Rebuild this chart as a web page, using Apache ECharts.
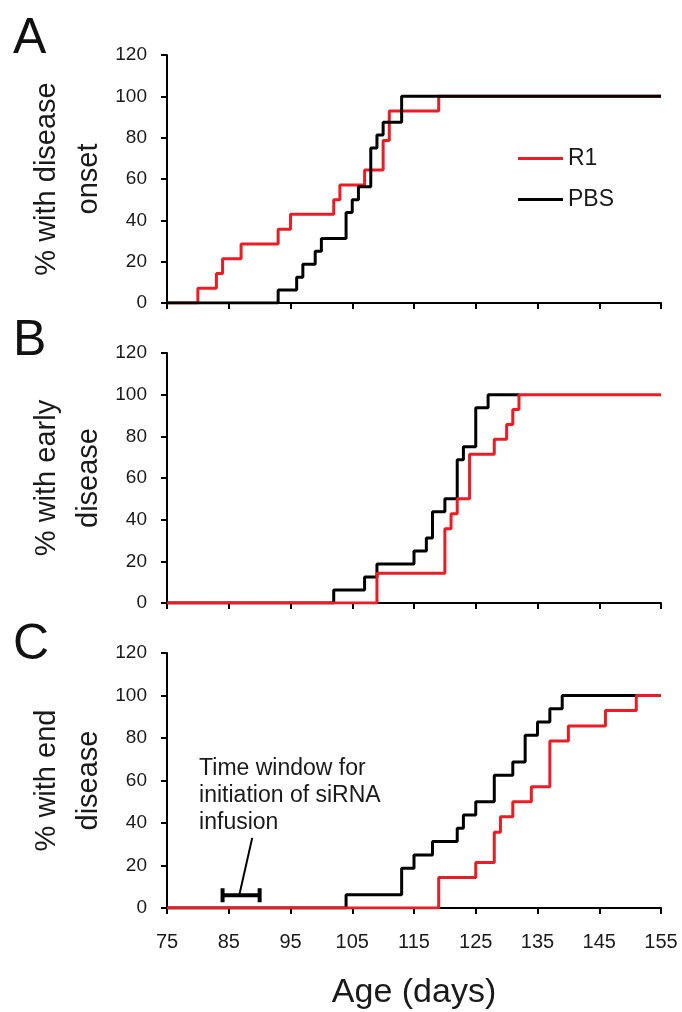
<!DOCTYPE html>
<html>
<head>
<meta charset="utf-8">
<script src="https://cdn.jsdelivr.net/npm/echarts@6/dist/echarts.min.js"></script>
<style>
html,body{margin:0;padding:0;background:#fff;}
#chart{width:682px;height:1012px;}
</style>
</head>
<body>
<div id="chart"></div>
<script>
// ---- Data (age in days, % of animals) ----
var xTicks = [75, 85, 95, 105, 115, 125, 135, 145, 155];
var yTicks = [0, 20, 40, 60, 80, 100, 120];

// Panel A: % with disease onset
var daysA_R1  = [75, 80, 83, 84, 87, 93, 95, 102, 103, 107, 110, 111, 119, 155];
var pctA_R1   = [0, 7.1, 14.3, 21.4, 28.6, 35.7, 42.9, 50, 57.1, 64.3, 78.6, 92.9, 100, 100];
var daysA_PBS = [75, 93, 96, 97, 99, 100, 104, 105, 106, 108, 109, 110, 113, 155];
var pctA_PBS  = [0, 6.25, 12.5, 18.75, 25, 31.25, 43.75, 50, 56.25, 75, 81.25, 87.5, 100, 100];

// Panel B: % with early disease
var daysB_R1  = [75, 109, 120, 121, 122, 124, 128, 130, 131, 132, 155];
var pctB_R1   = [0, 14.3, 35.7, 42.9, 50, 71.4, 78.6, 85.7, 92.9, 100, 100];
var daysB_PBS = [75, 102, 107, 109, 115, 117, 118, 120, 122, 123, 125, 127, 132];
var pctB_PBS  = [0, 6.25, 12.5, 18.75, 25, 31.25, 43.75, 50, 68.75, 75, 93.75, 100, 100];

// Panel C: % with end disease
var daysC_R1  = [75, 119, 125, 128, 129, 131, 134, 137, 140, 146, 151, 155];
var pctC_R1   = [0, 14.3, 21.4, 35.7, 42.9, 50, 57.1, 78.6, 85.7, 92.9, 100, 100];
var daysC_PBS = [75, 104, 113, 115, 118, 122, 123, 125, 128, 131, 133, 135, 137, 139, 151];
var pctC_PBS  = [0, 6.25, 18.75, 25, 31.25, 37.5, 43.75, 50, 62.5, 68.75, 81.25, 87.5, 93.75, 100, 100];

// Annotation in panel C: siRNA infusion window
var windowDays = [84, 90];
var windowPct = 6;
var pointerDays = [86.7, 88.8];
var pointerPct = [6, 33];
var annotAnchor = [80.2, 65.8];
var annotText = 'Time window for\ninitiation of siRNA\ninfusion';

var panelLetters = ['A', 'B', 'C'];
var yTitles = ['% with disease\nonset', '% with early\ndisease', '% with end\ndisease'];
var xTitle = 'Age (days)';
var seriesNames = ['R1', 'PBS'];

// ---- Styling ----
var RED = '#ec1c24', BLACK = '#000000';
var FONT = '"Liberation Sans", Arial, Helvetica, sans-serif';

function zip(xs, ys) { return xs.map(function (x, i) { return [x, ys[i]]; }); }

var grids = [
  { left: 167, right: 21, top: 55, height: 248 },
  { left: 167, right: 21, top: 353, height: 250 },
  { left: 167, right: 21, top: 653, height: 255 }
];

var xAxes = grids.map(function (g, i) {
  return {
    type: 'value', gridIndex: i, min: xTicks[0], max: xTicks[xTicks.length - 1], interval: 10,
    axisLine: { show: true, lineStyle: { color: '#000', width: 2 } },
    axisTick: { show: true, length: 6, lineStyle: { color: '#000', width: 2 } },
    axisLabel: { show: i === 2, fontSize: 20, color: '#1a1a1a', margin: 24, fontFamily: FONT },
    splitLine: { show: false },
    name: i === 2 ? xTitle : '',
    nameLocation: 'middle', nameGap: 68, nameMoveOverlap: false,
    nameTextStyle: { fontSize: 34, color: '#1a1a1a', fontFamily: FONT }
  };
});

var yAxes = grids.map(function (g, i) {
  return {
    type: 'value', gridIndex: i, min: yTicks[0], max: yTicks[yTicks.length - 1], interval: 20,
    axisLine: { show: true, lineStyle: { color: '#000', width: 2 } },
    axisTick: { show: true, length: 6, lineStyle: { color: '#000', width: 2 } },
    axisLabel: { fontSize: 19, color: '#1a1a1a', margin: 20, fontFamily: FONT },
    splitLine: { show: false },
    name: yTitles[i], nameLocation: 'middle', nameRotate: 90, nameGap: 57, nameMoveOverlap: false,
    nameTextStyle: { fontSize: 29, color: '#1a1a1a', lineHeight: 42, fontFamily: FONT, align: 'center' }
  };
});

function stepSeries(name, color, idx, data) {
  return {
    type: 'line', name: name, step: 'end', xAxisIndex: idx, yAxisIndex: idx,
    data: data, showSymbol: false, symbol: 'none', silent: true,
    lineStyle: { color: color, width: 3 }, itemStyle: { color: color },
    animation: false
  };
}

var series = [
  // A: black drawn on top
  stepSeries('R1', RED, 0, zip(daysA_R1, pctA_R1)),
  stepSeries('PBS', BLACK, 0, zip(daysA_PBS, pctA_PBS)),
  // B: red on top
  stepSeries('PBS', BLACK, 1, zip(daysB_PBS, pctB_PBS)),
  stepSeries('R1', RED, 1, zip(daysB_R1, pctB_R1)),
  // C: red on top
  stepSeries('PBS', BLACK, 2, zip(daysC_PBS, pctC_PBS)),
  stepSeries('R1', RED, 2, zip(daysC_R1, pctC_R1)),
  // pointer line of the annotation
  {
    type: 'line', xAxisIndex: 2, yAxisIndex: 2, silent: true, symbol: 'none', animation: false,
    data: zip(pointerDays, pointerPct), lineStyle: { color: '#000', width: 2 }, z: 3
  },
  // bracket + text of the annotation
  {
    type: 'custom', xAxisIndex: 2, yAxisIndex: 2, silent: true, animation: false, z: 4,
    data: [[windowDays[0], windowDays[1], windowPct, annotAnchor[0], annotAnchor[1]]],
    encode: { x: [0, 1, 3], y: [2, 4] },
    renderItem: function (params, api) {
      var p1 = api.coord([api.value(0), api.value(2)]);
      var p2 = api.coord([api.value(1), api.value(2)]);
      var t = api.coord([api.value(3), api.value(4)]);
      var h = 7;
      var st = { stroke: '#000', lineWidth: 4 };
      return {
        type: 'group', children: [
          { type: 'line', shape: { x1: p1[0], y1: p1[1], x2: p2[0], y2: p2[1] }, style: st },
          { type: 'line', shape: { x1: p1[0], y1: p1[1] - h, x2: p1[0], y2: p1[1] + h }, style: st },
          { type: 'line', shape: { x1: p2[0], y1: p2[1] - h, x2: p2[0], y2: p2[1] + h }, style: st },
          {
            type: 'text', x: t[0], y: t[1] - 13.5,
            style: {
              text: annotText, fill: '#1a1a1a', fontSize: 23, fontFamily: FONT,
              lineHeight: 27, align: 'left', verticalAlign: 'top'
            }
          }
        ]
      };
    }
  }
];

var chart = echarts.init(document.getElementById('chart'), null, { renderer: 'canvas' });
chart.setOption({
  backgroundColor: '#fff',
  animation: false,
  textStyle: { fontFamily: FONT },
  title: panelLetters.map(function (L, i) {
    return {
      text: L, left: 8, top: [9, 311, 615][i],
      textStyle: { fontSize: 50, fontWeight: 'normal', color: '#111', fontFamily: FONT }
    };
  }),
  legend: {
    data: seriesNames, orient: 'vertical', left: 513, top: 142,
    icon: 'rect', itemWidth: 45, itemHeight: 3, itemGap: 18,
    textStyle: { fontSize: 23, color: '#1a1a1a', fontFamily: FONT },
    selectedMode: false
  },
  grid: grids,
  xAxis: xAxes,
  yAxis: yAxes,
  series: series
});
</script>
</body>
</html>
